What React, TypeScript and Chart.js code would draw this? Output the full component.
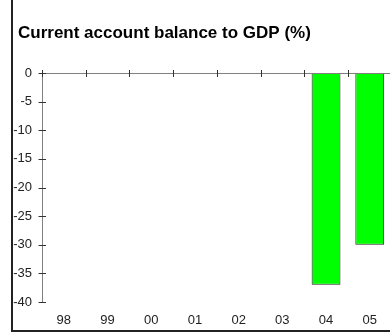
import React, { useEffect, useRef } from "react";
import { Chart, registerables } from "chart.js";

Chart.register(...registerables);

const categories = ["98", "99", "00", "01", "02", "03", "04", "05"];
const balanceValues: (number | null)[] = [null, null, null, null, null, null, -37, -30];
const yTicks = [0, -5, -10, -15, -20, -25, -30, -35, -40];
const titleText = "Current account balance to GDP (%)";

const framePlugin = {
  id: "frame",
  beforeDraw(chart: any) {
    const ctx = chart.ctx;
    ctx.save();
    ctx.fillStyle = "#ffffff";
    ctx.fillRect(0, 0, chart.width, chart.height);
    ctx.fillStyle = "#222222";
    ctx.fillRect(11, 0, 2, 332);
    ctx.fillRect(11, 330, chart.width, 2);
    ctx.fillStyle = "#000000";
    ctx.font = "bold 17px 'Liberation Sans', Arial, sans-serif";
    ctx.textAlign = "left";
    ctx.textBaseline = "alphabetic";
    ctx.fillText(titleText, 18, 38);
    ctx.restore();
  },
  afterDraw(chart: any) {
    const ctx = chart.ctx;
    const x = chart.scales.x;
    const y = chart.scales.y;
    const area = chart.chartArea;
    const y0 = Math.round(y.getPixelForValue(0)) + 0.5;
    const xl = Math.round(area.left) + 0.5;
    ctx.save();
    ctx.lineWidth = 1;
    ctx.strokeStyle = "#7f7f7f";
    ctx.beginPath();
    ctx.moveTo(xl, Math.round(y.getPixelForValue(0)));
    ctx.lineTo(xl, Math.round(y.getPixelForValue(-40)) + 1);
    ctx.moveTo(xl, y0);
    ctx.lineTo(area.right + 5, y0);
    ctx.stroke();
    ctx.strokeStyle = "#333333";
    ctx.beginPath();
    yTicks.forEach((v) => {
      const py = Math.round(y.getPixelForValue(v)) + 0.5;
      ctx.moveTo(xl - 4, py);
      ctx.lineTo(xl + 3.5, py);
    });
    const step = x.getPixelForValue(1) - x.getPixelForValue(0);
    for (let i = 0; i <= categories.length; i++) {
      const px = Math.round(x.getPixelForValue(i) - step / 2) + 0.5;
      ctx.moveTo(px, y0 - 3.5);
      ctx.lineTo(px, y0 + 3.5);
    }
    ctx.stroke();
    ctx.restore();
  },
};

export default function App() {
  const ref = useRef<HTMLCanvasElement | null>(null);
  useEffect(() => {
    if (!ref.current) return;
    const chart = new Chart(ref.current, {
      type: "bar",
      data: {
        labels: categories,
        datasets: [
          {
            data: balanceValues as any,
            backgroundColor: "#00ff00",
            borderColor: "#222222",
            borderWidth: 1,
            barPercentage: 0.66,
            categoryPercentage: 1,
          },
        ],
      },
      options: {
        animation: false,
        responsive: false,
        events: [],
        layout: { padding: { left: 0, right: 8.4, top: 73, bottom: 0 } },
        plugins: {
          legend: { display: false },
          tooltip: { enabled: false },
          title: { display: false },
        },
        scales: {
          x: {
            grid: { display: false, drawTicks: false },
            border: { display: false },
            ticks: {
              color: "#222222",
              font: { family: "Liberation Sans, Arial, sans-serif", size: 13 },
              padding: 11,
              maxRotation: 0,
              autoSkip: false,
            },
            afterFit: (s: any) => {
              s.height = 31;
            },
          },
          y: {
            min: -40,
            max: 0,
            grid: { display: false, drawTicks: false },
            border: { display: false },
            ticks: {
              stepSize: 5,
              color: "#222222",
              font: { family: "Liberation Sans, Arial, sans-serif", size: 13 },
              padding: 10,
            },
            afterFit: (s: any) => {
              s.width = 42;
            },
          },
        },
      },
      plugins: [framePlugin],
    });
    return () => chart.destroy();
  }, []);
  return (
    <div
      style={{
        position: "absolute",
        left: 0,
        top: 0,
        width: 390,
        height: 333,
        overflow: "hidden",
        background: "#fff",
      }}
    >
      <canvas ref={ref} width={400} height={333} style={{ display: "block" }} />
    </div>
  );
}
